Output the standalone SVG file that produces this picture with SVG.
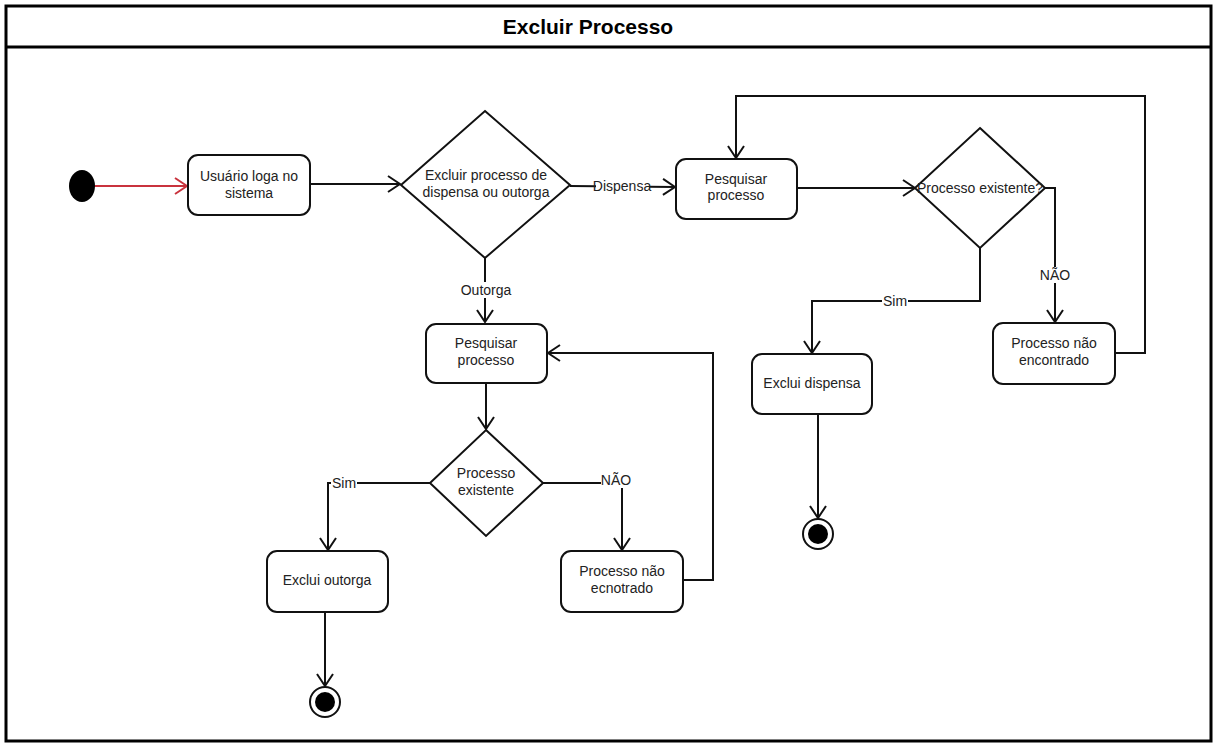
<svg xmlns="http://www.w3.org/2000/svg" width="1216" height="746" viewBox="0 0 1216 746">
<style>
text{font-family:"Liberation Sans",Arial,sans-serif;font-size:14px;fill:#222;text-anchor:middle}
.title{font-size:21px;font-weight:bold;fill:#000}
.node{fill:#fff;stroke:#111;stroke-width:2}
.edge{fill:none;stroke:#111;stroke-width:2}
.red{stroke:#c9333d}
.lblbg{fill:#fff}
</style>
<defs>
<marker id="arr" viewBox="0 0 14 18" refX="13" refY="9" markerWidth="14" markerHeight="18" markerUnits="userSpaceOnUse" orient="auto">
<path d="M1,1 L13,9 L1,17" fill="none" stroke="#111" stroke-width="2"/>
</marker>
<marker id="arrRed" viewBox="0 0 14 18" refX="13" refY="9" markerWidth="14" markerHeight="18" markerUnits="userSpaceOnUse" orient="auto">
<path d="M1,1 L13,9 L1,17" fill="none" stroke="#c9333d" stroke-width="2"/>
</marker>
</defs>
<rect x="0" y="0" width="1216" height="746" fill="#fff"/>
<g id="frame">
<rect x="6" y="6" width="1205" height="735" fill="none" stroke="#000" stroke-width="3"/>
<line x1="6" y1="47" x2="1211" y2="47" stroke="#000" stroke-width="3"/>
<text class="title" x="588" y="34">Excluir Processo</text>
</g>
<g id="connectors">
<line class="edge red" x1="95" y1="186" x2="187" y2="186" marker-end="url(#arrRed)"/>
<line class="edge" x1="310" y1="184" x2="400" y2="184" marker-end="url(#arr)"/>
<line class="edge" x1="570" y1="186" x2="675" y2="187" marker-end="url(#arr)"/>
<rect class="lblbg" x="596" y="178" width="53" height="16"/>
<text x="622" y="191">Dispensa</text>
<line class="edge" x1="797" y1="188" x2="915" y2="188" marker-end="url(#arr)"/>
<polyline class="edge" points="1045,188 1055,188 1055,322" marker-end="url(#arr)"/>
<rect class="lblbg" x="1040" y="267" width="30" height="16"/>
<text x="1055" y="280">NÃO</text>
<polyline class="edge" points="1115,353 1145,353 1145,96 736,96 736,158" marker-end="url(#arr)"/>
<polyline class="edge" points="980,248 980,301 812,301 812,353" marker-end="url(#arr)"/>
<rect class="lblbg" x="882" y="293" width="26" height="16"/>
<text x="895" y="306">Sim</text>
<line class="edge" x1="818" y1="414" x2="818" y2="518" marker-end="url(#arr)"/>
<line class="edge" x1="485" y1="258" x2="485" y2="322" marker-end="url(#arr)"/>
<rect class="lblbg" x="460" y="282" width="52" height="16"/>
<text x="486" y="295">Outorga</text>
<line class="edge" x1="486" y1="383" x2="486" y2="429" marker-end="url(#arr)"/>
<polyline class="edge" points="430,483 328,483 328,550" marker-end="url(#arr)"/>
<rect class="lblbg" x="331" y="475" width="26" height="16"/>
<text x="344" y="488">Sim</text>
<polyline class="edge" points="543,483 622,483 622,550" marker-end="url(#arr)"/>
<rect class="lblbg" x="601" y="472" width="31" height="16"/>
<text x="616" y="485">NÃO</text>
<polyline class="edge" points="683,580 713,580 713,353 548,353" marker-end="url(#arr)"/>
<line class="edge" x1="325" y1="612" x2="325" y2="686" marker-end="url(#arr)"/>
</g>
<g id="start">
<ellipse cx="82" cy="186" rx="13" ry="16" fill="#000"/>
</g>
<g id="usuario">
<rect class="node" x="188" y="155" width="122" height="60" rx="10"/>
<text x="249" y="181">Usuário loga no</text>
<text x="249" y="198">sistema</text>
</g>
<g id="decisao1">
<polygon class="node" points="485,111 570,185 485,258 401,185"/>
<text x="486" y="180">Excluir processo de</text>
<text x="486" y="197">dispensa ou outorga</text>
</g>
<g id="pesquisar1">
<rect class="node" x="676" y="159" width="121" height="60" rx="10"/>
<text x="736" y="184">Pesquisar</text>
<text x="736" y="200">processo</text>
</g>
<g id="decisao2">
<polygon class="node" points="980,128 1045,188 980,248 915,188"/>
<text x="980" y="193">Processo existente?</text>
</g>
<g id="naoEncontrado">
<rect class="node" x="993" y="323" width="122" height="61" rx="10"/>
<text x="1054" y="348">Processo não</text>
<text x="1054" y="365">encontrado</text>
</g>
<g id="excluiDispensa">
<rect class="node" x="752" y="354" width="120" height="60" rx="10"/>
<text x="812" y="388">Exclui dispensa</text>
</g>
<g id="fim1">
<circle cx="818" cy="534" r="15" fill="#fff" stroke="#111" stroke-width="2"/>
<circle cx="818" cy="534" r="10" fill="#000"/>
</g>
<g id="pesquisar2">
<rect class="node" x="426" y="324" width="121" height="59" rx="10"/>
<text x="486" y="348">Pesquisar</text>
<text x="486" y="365">processo</text>
</g>
<g id="decisao3">
<polygon class="node" points="486,430 543,483 486,536 430,483"/>
<text x="486" y="478">Processo</text>
<text x="486" y="495">existente</text>
</g>
<g id="excluiOutorga">
<rect class="node" x="267" y="551" width="121" height="61" rx="10"/>
<text x="327" y="585">Exclui outorga</text>
</g>
<g id="naoEcnotrado">
<rect class="node" x="561" y="551" width="122" height="61" rx="10"/>
<text x="622" y="576">Processo não</text>
<text x="622" y="593">ecnotrado</text>
</g>
<g id="fim2">
<circle cx="325" cy="702" r="15" fill="#fff" stroke="#111" stroke-width="2"/>
<circle cx="325" cy="702" r="10" fill="#000"/>
</g>
</svg>
